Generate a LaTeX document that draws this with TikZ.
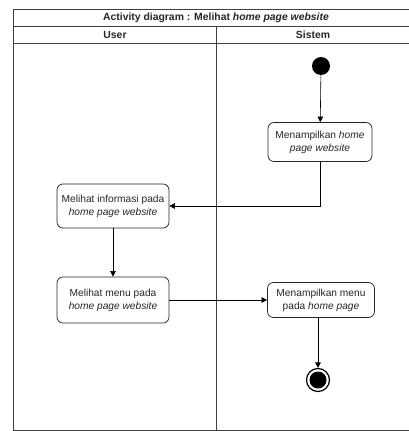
\documentclass[tikz,border=0pt]{standalone}
\usepackage{fontspec}
\setmainfont{Liberation Sans}
\usetikzlibrary{arrows.meta}

\begin{document}
\begin{tikzpicture}[x=1pt, y=-1pt,
    lane/.style={draw=black!75, line width=0.9pt},
    head/.style={font=\fontsize{10.4}{12}\selectfont\bfseries, text=black!85},
    act/.style={draw=black!85, line width=0.75pt, rounded corners=6pt, align=center, inner sep=0pt,
      text=black!85, font=\fontsize{10.2}{13}\selectfont},
    flow/.style={-{Triangle[length=5.5pt,width=5.5pt]}, line width=0.6pt}]
    \useasboundingbox (0,0) rectangle (409,431);

    % swimlanes
    \draw[lane] (409,9) -- (13.5,9) -- (13.5,430.5) -- (409,430.5);
    \draw[lane] (13.5,26) -- (409,26);
    \draw[lane] (13.5,43.5) -- (409,43.5);
    \draw[lane] (216,26) -- (216,430.5);
    \node[head] (title) at (216,17.5) {Activity diagram : Melihat \textit{home page website}};
    \node[head] (user) at (115,35) {User};
    \node[head] (sistem) at (313,35) {Sistem};

    % actions
    \node[fill, circle, minimum size=18pt, inner sep=0pt] (start) at (321,66) {};
    \node[act, minimum width=104pt, minimum height=39pt] (tampil) at (320,142) {Menampilkan \textit{home}\\\textit{page website}};
    \node[act, minimum width=112pt, minimum height=44pt] (info) at (113,206) {Melihat informasi pada\\\textit{home page website}};
    \node[act, minimum width=112pt, minimum height=46pt] (menu) at (113,300) {Melihat menu pada\\\textit{home page website}};
    \node[act, minimum width=107pt, minimum height=35pt] (tmenu) at (321,300) {Menampilkan menu\\pada \textit{home page}};
    \node[draw, circle, line width=1.2pt, minimum size=23pt, inner sep=0pt] (end) at (318,380) {};
    \fill (end.center) circle (8.5pt);

    \draw[flow] (start) -- (tampil);
    \draw[flow] (tampil.south) |- (info.east);
    \draw[flow] (info) -- (menu);
    \draw[flow] (menu) -- (tmenu);
    \draw[flow] (tmenu.south -| end) -- (end.north);
  \end{tikzpicture}
\end{document}
